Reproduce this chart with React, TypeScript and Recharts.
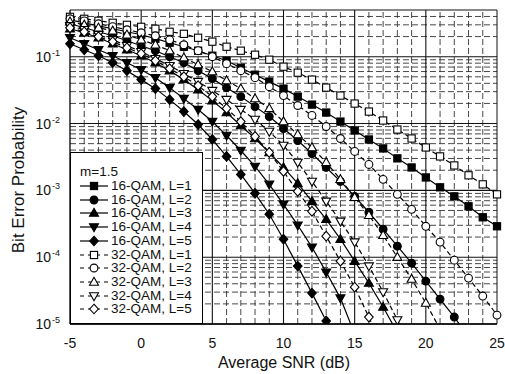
import React from 'react';
import { LineChart, Line, XAxis, YAxis, ReferenceLine, Label } from 'recharts';

// Average SNR (dB), one point per dB
const SNR = [-5, -4, -3, -2, -1, 0, 1, 2, 3, 4, 5, 6, 7, 8, 9, 10, 11, 12, 13, 14, 15, 16, 17, 18, 19, 20, 21, 22, 23, 24, 25];

// 16-QAM, m = 1.5 (starting at -5 dB)
const Q16_L1 = [0.356, 0.321, 0.29, 0.262, 0.236, 0.213, 0.186, 0.162, 0.141, 0.123, 0.1035, 0.0871, 0.0685, 0.0538, 0.0424, 0.0333, 0.0253, 0.0192, 0.0146, 0.0107, 0.00787, 0.00577, 0.00424, 0.00301, 0.0022, 0.00156, 0.00111, 0.000813, 0.000577, 0.000395, 0.00029];
const Q16_L2 = [0.311, 0.271, 0.236, 0.206, 0.173, 0.146, 0.123, 0.1, 0.0813, 0.0618, 0.047, 0.0344, 0.0253, 0.0179, 0.0127, 0.00841, 0.00557, 0.00356, 0.0022, 0.00136, 0.000813, 0.00047, 0.000262, 0.000146, 0.0000813, 0.0000438, 0.0000236, 0.0000127, 0.0000064];
const Q16_L3 = [0.262, 0.228, 0.192, 0.156, 0.127, 0.1035, 0.0813, 0.0618, 0.0454, 0.0321, 0.022, 0.0146, 0.00933, 0.00597, 0.00369, 0.0022, 0.00127, 0.000685, 0.000369, 0.000186, 0.0000871, 0.0000409, 0.000018, 0.0000074];
const Q16_L4 = [0.192, 0.156, 0.127, 0.1035, 0.0813, 0.064, 0.0486, 0.0344, 0.0236, 0.0162, 0.0107, 0.00662, 0.00395, 0.00228, 0.00123, 0.000618, 0.000301, 0.000141, 0.0000597, 0.0000244, 0.0000071];
const Q16_L5 = [0.156, 0.127, 0.1035, 0.0813, 0.0618, 0.0454, 0.0333, 0.0228, 0.0151, 0.00966, 0.00577, 0.00322, 0.00173, 0.000902, 0.000439, 0.000186, 0.0000735, 0.000029, 0.0000111, 0.0000042];

// 32-QAM, m = 1.5
const Q32_L1 = [0.395, 0.369, 0.345, 0.322, 0.3, 0.28, 0.262, 0.236, 0.22, 0.192, 0.168, 0.141, 0.123, 0.107, 0.0902, 0.0709, 0.0577, 0.0454, 0.0345, 0.0262, 0.0199, 0.0151, 0.0111, 0.00813, 0.00597, 0.00438, 0.00322, 0.00236, 0.00168, 0.00123, 0.000871];
const Q32_L2 = [0.369, 0.344, 0.311, 0.281, 0.253, 0.228, 0.206, 0.179, 0.151, 0.123, 0.1, 0.0787, 0.0618, 0.0486, 0.0356, 0.0262, 0.0186, 0.0132, 0.00902, 0.00597, 0.00382, 0.00244, 0.00146, 0.000871, 0.00052, 0.00029, 0.000168, 0.0000902, 0.0000486, 0.0000262, 0.0000136];
const Q32_L3 = [0.333, 0.3, 0.271, 0.244, 0.213, 0.179, 0.151, 0.123, 0.0966, 0.076, 0.0597, 0.0439, 0.0333, 0.0236, 0.0168, 0.0107, 0.00685, 0.00438, 0.00262, 0.00146, 0.000787, 0.000424, 0.000213, 0.0001, 0.000047, 0.0000206, 0.0000084];
const Q32_L4 = [0.29, 0.253, 0.213, 0.179, 0.146, 0.119, 0.0933, 0.0735, 0.0557, 0.0424, 0.0311, 0.0228, 0.0162, 0.0115, 0.0076, 0.0047, 0.00262, 0.00136, 0.000685, 0.000344, 0.000168, 0.0000735, 0.0000301, 0.0000115, 0.0000042];
const Q32_L5 = [0.271, 0.236, 0.199, 0.168, 0.136, 0.111, 0.0871, 0.0662, 0.0502, 0.0369, 0.0253, 0.0168, 0.0107, 0.0064, 0.00369, 0.00192, 0.000966, 0.000486, 0.000206, 0.0000871, 0.0000356, 0.0000127, 0.0000042];

const X_TICKS = [-5, 0, 5, 10, 15, 20, 25];
const Y_TICKS = [1e-5, 1e-4, 1e-3, 1e-2, 1e-1];

type Shape = 'square' | 'circle' | 'up' | 'down' | 'diamond';

const SERIES: { key: string; name: string; values: number[]; shape: Shape; filled: boolean }[] = [
  { key: 'q16l1', name: '16-QAM, L=1', values: Q16_L1, shape: 'square', filled: true },
  { key: 'q16l2', name: '16-QAM, L=2', values: Q16_L2, shape: 'circle', filled: true },
  { key: 'q16l3', name: '16-QAM, L=3', values: Q16_L3, shape: 'up', filled: true },
  { key: 'q16l4', name: '16-QAM, L=4', values: Q16_L4, shape: 'down', filled: true },
  { key: 'q16l5', name: '16-QAM, L=5', values: Q16_L5, shape: 'diamond', filled: true },
  { key: 'q32l1', name: '32-QAM, L=1', values: Q32_L1, shape: 'square', filled: false },
  { key: 'q32l2', name: '32-QAM, L=2', values: Q32_L2, shape: 'circle', filled: false },
  { key: 'q32l3', name: '32-QAM, L=3', values: Q32_L3, shape: 'up', filled: false },
  { key: 'q32l4', name: '32-QAM, L=4', values: Q32_L4, shape: 'down', filled: false },
  { key: 'q32l5', name: '32-QAM, L=5', values: Q32_L5, shape: 'diamond', filled: false },
];

const data = SNR.map((snr, i) => {
  const row: Record<string, number | null> = { snr };
  SERIES.forEach((s) => {
    row[s.key] = s.values[i] ?? null;
  });
  return row;
});

// grid lines: every dB, and 2..9 within each decade
const X_MINOR = SNR.filter((v) => v % 5 !== 0);
const X_MAJOR = [0, 5, 10, 15, 20];
const Y_MINOR: number[] = [];
[1e-5, 1e-4, 1e-3, 1e-2, 1e-1].forEach((d) => {
  for (let k = 2; k <= 9; k++) {
    if (k * d < 0.5) Y_MINOR.push(k * d);
  }
});

const FONT = '"Liberation Sans", Arial, sans-serif';

function Marker({ cx, cy, shape, filled }: { cx: number; cy: number; shape: Shape; filled: boolean }) {
  const fill = filled ? '#000' : '#fff';
  const common = { fill, stroke: '#000', strokeWidth: 1.1 };
  if (shape === 'square') return <rect x={cx - 3.6} y={cy - 3.6} width={7.2} height={7.2} {...common} />;
  if (shape === 'circle') return <circle cx={cx} cy={cy} r={3.9} {...common} />;
  if (shape === 'up')
    return <polygon points={`${cx},${cy - 4.7} ${cx + 4.5},${cy + 3.2} ${cx - 4.5},${cy + 3.2}`} {...common} />;
  if (shape === 'down')
    return <polygon points={`${cx},${cy + 4.7} ${cx + 4.5},${cy - 3.2} ${cx - 4.5},${cy - 3.2}`} {...common} />;
  return <polygon points={`${cx},${cy - 4.8} ${cx + 4.3},${cy} ${cx},${cy + 4.8} ${cx - 4.3},${cy}`} {...common} />;
}

const YTick = (props: any) => {
  const { y, payload } = props;
  const exp = Math.round(Math.log10(payload.value));
  return (
    <g>
      <text x={51} y={y + 5} textAnchor="end" fontSize={14} fill="#111" fontFamily={FONT}>
        10
      </text>
      <text x={52} y={y - 1} fontSize={9} fill="#111" fontFamily={FONT}>
        {exp}
      </text>
    </g>
  );
};

function LegendBox() {
  return (
    <div
      style={{
        position: 'absolute',
        left: 70,
        top: 152,
        width: 133,
        height: 172,
        background: '#fff',
        border: '1.5px solid #000',
        boxSizing: 'border-box',
        fontFamily: FONT,
        fontSize: 13.5,
        color: '#111',
      }}
    >
      <div style={{ position: 'absolute', left: 9, top: 11, lineHeight: '16px' }}>m=1.5</div>
      {SERIES.map((s, i) => (
        <div key={s.key} style={{ position: 'absolute', left: 8, top: 25 + i * 13.7, height: 16, display: 'flex', alignItems: 'center' }}>
          <svg width={30} height={12} style={{ display: 'block' }}>
            <line x1={1} y1={6} x2={29} y2={6} stroke="#000" strokeWidth={1.2} strokeDasharray={s.filled ? undefined : '4 4'} />
            <Marker cx={15} cy={6} shape={s.shape} filled={s.filled} />
          </svg>
          <span style={{ marginLeft: 2, lineHeight: '16px', whiteSpace: 'nowrap' }}>{s.name}</span>
        </div>
      ))}
    </div>
  );
}

export default function App() {
  return (
    <div style={{ position: 'relative', width: 505, height: 374, background: '#fff', fontFamily: FONT }}>
      <style>{'body{margin:0;}'}</style>
      <LineChart width={505} height={374} data={data} margin={{ top: 10, right: 8, bottom: 5, left: 0 }}>
        {X_MINOR.map((v) => (
          <ReferenceLine key={`xm${v}`} x={v} stroke="#333" strokeWidth={0.9} strokeDasharray="6 3" zIndex={-50} />
        ))}
        {Y_MINOR.map((v) => (
          <ReferenceLine key={`ym${v}`} y={v} stroke="#333" strokeWidth={0.9} strokeDasharray="6 3" zIndex={-50} />
        ))}
        {X_MAJOR.map((v) => (
          <ReferenceLine key={`xM${v}`} x={v} stroke="#111" strokeWidth={1.1} zIndex={-40} />
        ))}
        {Y_TICKS.map((v) => (
          <ReferenceLine key={`yM${v}`} y={v} stroke="#111" strokeWidth={1.1} zIndex={-40} />
        ))}
        <ReferenceLine x={25} stroke="#111" strokeWidth={1} zIndex={-40} />
        <ReferenceLine y={0.5} stroke="#111" strokeWidth={1} zIndex={-40} />
        <XAxis
          dataKey="snr"
          type="number"
          domain={[-5, 25]}
          ticks={X_TICKS}
          height={45}
          tickLine={false}
          tickMargin={8}
          axisLine={{ stroke: '#000', strokeWidth: 1.3 }}
          tick={{ fontSize: 14, fill: '#111', fontFamily: FONT }}
        >
          <Label
            content={() => (
              <text x={284} y={368} textAnchor="middle" fontSize={16} fill="#111" fontFamily={FONT}>
                Average SNR (dB)
              </text>
            )}
          />
        </XAxis>
        <YAxis
          scale="log"
          domain={[1e-5, 0.5]}
          allowDataOverflow
          ticks={Y_TICKS}
          width={70}
          tickLine={false}
          axisLine={{ stroke: '#000', strokeWidth: 1.3 }}
          tick={<YTick />}
        >
          <Label
            content={() => (
              <text
                x={18}
                y={180}
                transform="rotate(-90, 18, 180)"
                textAnchor="middle"
                dominantBaseline="central"
                fontSize={17}
                fill="#111"
                fontFamily={FONT}
              >
                Bit Error Probability
              </text>
            )}
          />
        </YAxis>
        {SERIES.map((s) => (
          <Line
            key={s.key}
            dataKey={s.key}
            name={s.name}
            stroke="#000"
            strokeWidth={1.2}
            strokeDasharray={s.filled ? undefined : '5 3'}
            isAnimationActive={false}
            activeDot={false}
            dot={(p: any) => {
              if (p.cx == null || p.cy == null || p.value == null) return <g key={`${s.key}-${p.index}`} />;
              return (
                <g key={`${s.key}-${p.index}`}>
                  <Marker cx={p.cx} cy={p.cy} shape={s.shape} filled={s.filled} />
                </g>
              );
            }}
          />
        ))}
      </LineChart>
      <LegendBox />
    </div>
  );
}
